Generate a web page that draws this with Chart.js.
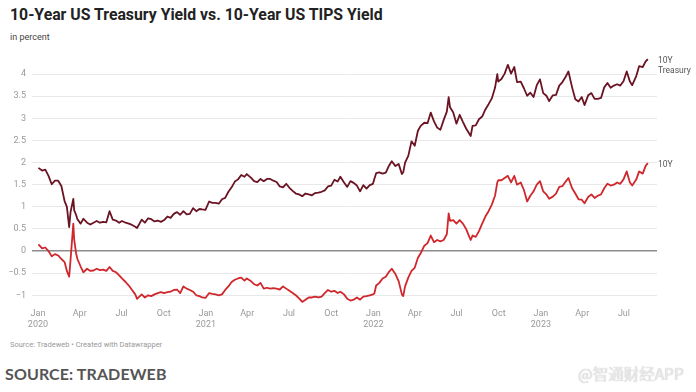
<!DOCTYPE html>
<html>
<head>
<meta charset="utf-8">
<script src="https://cdn.jsdelivr.net/npm/chart.js@4/dist/chart.umd.min.js"></script>
<style>
  html, body { margin: 0; padding: 0; background: #fff; }
  body { width: 696px; height: 392px; position: relative; overflow: hidden; font-family: Roboto, "Noto Sans", sans-serif; }
  #title { position: absolute; left: 10px; top: 5px; font-size: 15.8px; font-weight: 700; color: #222; white-space: nowrap; }
  #subtitle { position: absolute; left: 10px; top: 32px; font-size: 9px; color: #444; }
  #wrap { position: absolute; left: 0; top: 45px; width: 696px; height: 290px; }
  #source { position: absolute; left: 10px; top: 340px; font-size: 7.5px; color: #999; }
  #source2 { position: absolute; left: 5px; top: 364px; font-family: Lato, "Open Sans", sans-serif; font-size: 16px; font-weight: 700; color: #555; letter-spacing: 0.1px; }
  #wm { position: absolute; left: 578px; top: 362px; font-family: "Noto Sans CJK SC", sans-serif; font-size: 15.5px; color: #e9e9e9; text-shadow: 0 0 1px #bbb; }
</style>
</head>
<body>
<div id="title">10-Year US Treasury Yield vs. 10-Year US TIPS Yield</div>
<div id="subtitle">in percent</div>
<div id="wrap"><canvas id="c" width="696" height="290"></canvas></div>
<div id="source">Source: Tradeweb • Created with Datawrapper</div>
<div id="source2">SOURCE: TRADEWEB</div>
<div id="wm">@智通财经APP</div>
<script>
// ---- data (weekly readings, percent) ----
const dates = [
  // 2020
  "2020-01-02","2020-01-10","2020-01-17","2020-01-24","2020-01-31","2020-02-07","2020-02-14","2020-02-21","2020-02-28",
  "2020-03-04","2020-03-09","2020-03-12","2020-03-18","2020-03-20","2020-03-24","2020-03-27","2020-04-03","2020-04-09",
  "2020-04-17","2020-04-24","2020-05-01","2020-05-08","2020-05-15","2020-05-22","2020-05-29","2020-06-05","2020-06-12",
  "2020-06-19","2020-06-26","2020-07-02","2020-07-10","2020-07-17","2020-07-24","2020-07-31","2020-08-04","2020-08-14",
  "2020-08-21","2020-08-28","2020-09-04","2020-09-11","2020-09-18","2020-09-25","2020-10-02","2020-10-09","2020-10-16",
  "2020-10-23","2020-10-30","2020-11-06","2020-11-13","2020-11-20","2020-11-27","2020-12-04","2020-12-11","2020-12-18",
  "2020-12-24","2020-12-31",
  // 2021
  "2021-01-08","2021-01-15","2021-01-22","2021-01-29","2021-02-05","2021-02-12","2021-02-19","2021-02-26","2021-03-05",
  "2021-03-12","2021-03-19","2021-03-26","2021-03-31","2021-04-09","2021-04-16","2021-04-23","2021-04-30","2021-05-07",
  "2021-05-14","2021-05-21","2021-05-28","2021-06-04","2021-06-11","2021-06-18","2021-06-25","2021-07-02","2021-07-09",
  "2021-07-16","2021-07-23","2021-07-30","2021-08-06","2021-08-13","2021-08-20","2021-08-27","2021-09-03","2021-09-10",
  "2021-09-17","2021-09-24","2021-10-01","2021-10-08","2021-10-15","2021-10-21","2021-10-29","2021-11-05","2021-11-12",
  "2021-11-19","2021-11-26","2021-12-03","2021-12-10","2021-12-17","2021-12-24","2021-12-31",
  // 2022
  "2022-01-03","2022-01-07","2022-01-14","2022-01-21","2022-01-28","2022-02-04","2022-02-10","2022-02-18","2022-02-25",
  "2022-03-04","2022-03-07","2022-03-11","2022-03-18","2022-03-25","2022-04-01","2022-04-08","2022-04-14","2022-04-22",
  "2022-04-29","2022-05-06","2022-05-13","2022-05-20","2022-05-27","2022-06-03","2022-06-10","2022-06-14","2022-06-17",
  "2022-06-24","2022-07-01","2022-07-08","2022-07-15","2022-07-22","2022-07-29","2022-08-01","2022-08-05","2022-08-12",
  "2022-08-19","2022-08-26","2022-09-02","2022-09-09","2022-09-16","2022-09-23","2022-09-28","2022-09-30","2022-10-07",
  "2022-10-14","2022-10-21","2022-10-28","2022-11-04","2022-11-10","2022-11-18","2022-11-25","2022-12-02","2022-12-09",
  "2022-12-16","2022-12-23","2022-12-30",
  // 2023
  "2023-01-06","2023-01-13","2023-01-19","2023-01-27","2023-02-03","2023-02-10","2023-02-17","2023-02-24","2023-03-02",
  "2023-03-10","2023-03-17","2023-03-24","2023-03-31","2023-04-06","2023-04-14","2023-04-21","2023-04-28","2023-05-05",
  "2023-05-12","2023-05-19","2023-05-26","2023-06-02","2023-06-09","2023-06-16","2023-06-23","2023-06-30","2023-07-07",
  "2023-07-14","2023-07-19","2023-07-28","2023-08-03","2023-08-11","2023-08-17","2023-08-22"
];
const treasury = [
  1.88,1.82,1.84,1.70,1.51,1.59,1.59,1.47,1.13,
  1.00,0.54,0.88,1.18,0.92,0.82,0.72,0.62,0.73,
  0.64,0.60,0.64,0.68,0.64,0.66,0.65,0.90,0.71,
  0.69,0.64,0.68,0.64,0.62,0.59,0.55,0.52,0.71,
  0.64,0.74,0.72,0.67,0.69,0.66,0.70,0.78,0.75,
  0.84,0.88,0.82,0.90,0.83,0.84,0.97,0.90,0.95,
  0.94,0.93,
  1.12,1.09,1.09,1.07,1.17,1.20,1.34,1.44,1.57,
  1.62,1.72,1.68,1.74,1.66,1.58,1.56,1.63,1.58,
  1.63,1.63,1.59,1.56,1.46,1.44,1.52,1.43,1.36,
  1.30,1.28,1.24,1.30,1.28,1.26,1.31,1.32,1.34,
  1.37,1.46,1.48,1.61,1.57,1.68,1.55,1.45,1.58,
  1.54,1.48,1.35,1.49,1.41,1.49,1.52,
  1.63,1.76,1.78,1.75,1.77,1.93,2.03,1.92,1.97,
  1.74,1.78,2.00,2.15,2.48,2.38,2.72,2.83,2.90,
  2.89,3.13,2.93,2.79,2.74,2.96,3.15,3.48,3.25,
  3.13,2.88,3.08,2.92,2.77,2.65,2.60,2.83,2.84,
  2.98,3.04,3.20,3.32,3.45,3.69,4.00,3.83,3.89,
  4.01,4.21,4.01,4.16,3.82,3.83,3.68,3.51,3.58,
  3.48,3.75,3.88,
  3.57,3.51,3.39,3.52,3.53,3.74,3.82,3.94,4.06,
  3.70,3.43,3.38,3.48,3.30,3.52,3.57,3.44,3.44,
  3.46,3.70,3.80,3.69,3.74,3.77,3.74,3.84,4.06,
  3.83,3.75,3.96,4.18,4.16,4.28,4.34
];
const tips = [
  0.15,0.06,0.08,0.00,-0.12,-0.07,-0.10,-0.18,-0.25,
  -0.45,-0.58,-0.20,0.62,0.25,-0.05,-0.18,-0.35,-0.48,
  -0.40,-0.45,-0.44,-0.40,-0.43,-0.42,-0.45,-0.36,-0.45,
  -0.48,-0.55,-0.62,-0.70,-0.78,-0.88,-0.98,-1.08,-0.98,
  -1.05,-1.00,-1.02,-0.98,-0.95,-0.93,-0.95,-0.93,-0.92,
  -0.88,-0.87,-0.95,-0.80,-0.85,-0.88,-0.92,-1.00,-1.02,
  -1.05,-1.06,
  -0.95,-0.97,-0.98,-1.00,-0.98,-0.88,-0.80,-0.70,-0.65,
  -0.62,-0.60,-0.67,-0.62,-0.68,-0.75,-0.78,-0.72,-0.85,
  -0.83,-0.85,-0.84,-0.85,-0.87,-0.80,-0.85,-0.90,-0.95,
  -1.00,-1.07,-1.15,-1.10,-1.05,-1.05,-1.03,-1.05,-1.03,
  -0.95,-0.88,-0.92,-0.90,-0.95,-0.92,-0.98,-1.08,-1.12,
  -1.10,-1.05,-1.10,-1.03,-1.02,-1.00,-0.98,
  -0.96,-0.78,-0.72,-0.62,-0.58,-0.47,-0.40,-0.52,-0.68,
  -0.98,-1.02,-0.80,-0.60,-0.45,-0.38,-0.15,-0.05,0.12,
  0.18,0.35,0.20,0.25,0.22,0.25,0.38,0.85,0.68,
  0.70,0.62,0.70,0.62,0.50,0.32,0.25,0.35,0.32,
  0.45,0.62,0.78,0.90,1.05,1.25,1.55,1.60,1.60,
  1.65,1.70,1.55,1.70,1.50,1.55,1.38,1.12,1.25,
  1.35,1.50,1.58,
  1.35,1.28,1.18,1.23,1.30,1.45,1.47,1.57,1.65,
  1.42,1.30,1.17,1.16,1.08,1.22,1.28,1.20,1.25,
  1.28,1.42,1.52,1.48,1.50,1.55,1.52,1.62,1.80,
  1.55,1.48,1.62,1.80,1.75,1.92,1.99
];
const yTicks = [-1, -0.5, 0, 0.5, 1, 1.5, 2, 2.5, 3, 3.5, 4];
const monthTicks = ["2020-01-01","2020-04-01","2020-07-01","2020-10-01","2021-01-01","2021-04-01","2021-07-01","2021-10-01",
  "2022-01-01","2022-04-01","2022-07-01","2022-10-01","2023-01-01","2023-04-01","2023-07-01"];
const monthNames = ["Jan","Feb","Mar","Apr","May","Jun","Jul","Aug","Sep","Oct","Nov","Dec"];
const seriesLabels = [["10Y", "Treasury"], ["10Y"]];

// ---- helpers ----
const BASE = Date.UTC(2020, 0, 1);
function dayNum(s) { const p = s.split("-").map(Number); return (Date.UTC(p[0], p[1] - 1, p[2]) - BASE) / 86400000; }
function tickLabel(s) {
  const p = s.split("-").map(Number);
  const m = monthNames[p[1] - 1];
  return p[1] === 1 ? [m, String(p[0])] : m;
}
const tickMap = {};
monthTicks.forEach(s => { tickMap[dayNum(s)] = tickLabel(s); });

const COL_T = "#6a1322";
const COL_R = "#d0272c";

const endLabels = {
  id: "endLabels",
  afterDatasetsDraw(chart) {
    const ctx = chart.ctx;
    ctx.save();
    ctx.font = "8.5px Roboto, sans-serif";
    ctx.fillStyle = "#555";
    ctx.textBaseline = "middle";
    ctx.textAlign = "left";
    chart.data.datasets.forEach((ds, i) => {
      const meta = chart.getDatasetMeta(i);
      const pt = meta.data[meta.data.length - 1];
      const lines = seriesLabels[i];
      lines.forEach((t, k) => ctx.fillText(t, chart.chartArea.right + 1, pt.y + 2 + k * 9.5));
    });
    ctx.restore();
  }
};

new Chart(document.getElementById("c"), {
  type: "line",
  data: {
    datasets: [
      { label: "10Y Treasury", data: dates.map((d, i) => ({ x: dayNum(d), y: treasury[i] })), borderColor: COL_T, borderWidth: 1.8 },
      { label: "10Y TIPS", data: dates.map((d, i) => ({ x: dayNum(d), y: tips[i] })), borderColor: COL_R, borderWidth: 1.8 }
    ]
  },
  options: {
    responsive: false,
    animation: false,
    events: [],
    layout: { padding: { top: 7, right: 39, left: 0, bottom: 0 } },
    elements: { point: { radius: 0 }, line: { tension: 0, borderJoinStyle: "round" } },
    plugins: { legend: { display: false }, tooltip: { enabled: false } },
    scales: {
      x: {
        type: "linear",
        min: -13, max: 1349,
        grid: { display: false, drawTicks: false },
        border: { display: false },
        afterBuildTicks: s => { s.ticks = monthTicks.map(t => ({ value: dayNum(t) })); },
        afterFit: s => { s.height = 30; },
        ticks: {
          autoSkip: false, maxRotation: 0, padding: 4,
          color: "#999", font: { family: "Roboto", size: 9, lineHeight: 1.15 },
          callback: v => tickMap[v]
        }
      },
      y: {
        min: -1.22, max: 4.4,
        afterBuildTicks: s => { s.ticks = yTicks.map(v => ({ value: v })); },
        afterFit: s => { s.width = 32; },
        grid: {
          drawTicks: false,
          color: c => c.tick && c.tick.value === 0 ? "#8c8c8c" : "#e8e8e8",
          lineWidth: c => c.tick && c.tick.value === 0 ? 1.6 : 1
        },
        border: { display: false },
        ticks: {
          padding: 6, color: "#999", font: { family: "Roboto", size: 9 },
          callback: v => (v < 0 ? "\u2212" + Math.abs(v) : String(v))
        }
      }
    }
  },
  plugins: [endLabels]
});
</script>
</body>
</html>
